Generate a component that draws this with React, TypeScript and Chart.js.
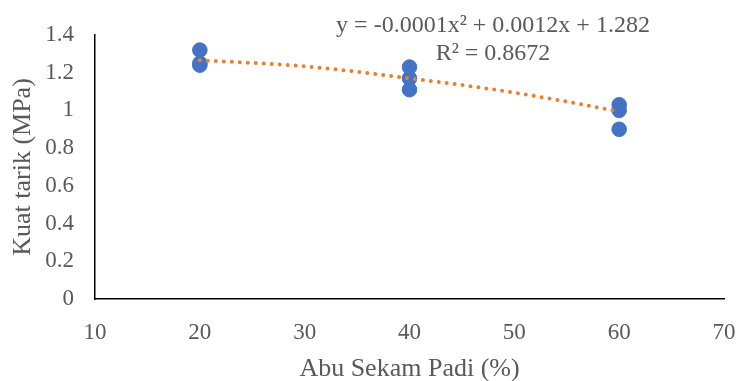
import React, { useEffect, useRef } from "react";
import { Chart, registerables } from "chart.js";

Chart.register(...registerables);

const abuX20: number[] = [20, 20, 20];
const kuat20: number[] = [1.32, 1.25, 1.24];
const abuX40: number[] = [40, 40, 40];
const kuat40: number[] = [1.23, 1.17, 1.11];
const abuX60: number[] = [60, 60, 60];
const kuat60: number[] = [1.03, 1.0, 0.9];

const trendX: number[] = [20, 25, 30, 35, 40, 45, 50, 55, 60];
const trendY: number[] = [1.266, 1.252, 1.234, 1.205, 1.17, 1.135, 1.094, 1.047, 0.994];

const equationLines: string[] = ["y = -0.0001x² + 0.0012x + 1.282", "R² = 0.8672"];

const FONT = "'Liberation Serif', 'Times New Roman', serif";
const GRAY = "#595959";

export default function App() {
  const ref = useRef<HTMLCanvasElement | null>(null);
  useEffect(() => {
    if (!ref.current) return;
    const points = [
      ...abuX20.map((x, i) => ({ x, y: kuat20[i] })),
      ...abuX40.map((x, i) => ({ x, y: kuat40[i] })),
      ...abuX60.map((x, i) => ({ x, y: kuat60[i] })),
    ];
    const trend = trendX.map((x, i) => ({ x, y: trendY[i] }));
    const eqPlugin = {
      id: "eq",
      afterDraw(chart: any) {
        const ctx = chart.ctx;
        ctx.save();
        ctx.fillStyle = GRAY;
        ctx.font = `24px ${FONT}`;
        ctx.textAlign = "center";
        ctx.textBaseline = "alphabetic";
        ctx.fillText(equationLines[0], 493, 32);
        ctx.fillText(equationLines[1], 493, 60);
        ctx.restore();
      },
    };
    const chart = new Chart(ref.current, {
      type: "scatter",
      data: {
        datasets: [
          {
            type: "line",
            data: trend,
            borderColor: "#ED7D31",
            borderWidth: 4,
            borderDash: [0, 8],
            borderCapStyle: "round",
            pointRadius: 0,
            tension: 0.4,
            cubicInterpolationMode: "monotone",
            fill: false,
            order: 0,
          } as any,
          {
            data: points,
            backgroundColor: "#4472C4",
            borderColor: "#4472C4",
            pointRadius: 7.3,
            pointHoverRadius: 7.3,
            order: 1,
          },
        ],
      },
      options: {
        animation: false,
        responsive: false,
        maintainAspectRatio: false,
        layout: { padding: { top: 35, right: 17, left: 0, bottom: 0 } },
        plugins: { legend: { display: false }, tooltip: { enabled: false } },
        scales: {
          x: {
            type: "linear",
            min: 10,
            max: 70,
            ticks: {
              stepSize: 10,
              color: GRAY,
              font: { family: FONT, size: 23 },
              padding: 20,
            },
            grid: { display: false, drawTicks: false },
            border: { display: true, color: "#000000", width: 1.5 },
            title: {
              display: true,
              text: "Abu Sekam Padi (%)",
              color: GRAY,
              font: { family: FONT, size: 26, lineHeight: 0.9 },
              padding: { top: 0, bottom: 0 },
            },
            afterFit(scale: any) {
              scale.height = 82;
              scale.paddingRight = 0;
              scale.paddingLeft = 0;
            },
          },
          y: {
            min: 0,
            max: 1.4,
            ticks: {
              stepSize: 0.2,
              color: GRAY,
              font: { family: FONT, size: 23 },
              padding: 21,
              callback: (v: any) => String(Number(Number(v).toFixed(1))),
            },
            grid: { display: false, drawTicks: false },
            border: { display: true, color: "#000000", width: 1.5 },
            title: {
              display: true,
              text: "Kuat tarik (MPa)",
              color: GRAY,
              font: { family: FONT, size: 26, lineHeight: 1.2 },
              padding: { top: 8, bottom: 0 },
            },
            afterFit(scale: any) {
              scale.width = 95;
              scale.paddingTop = 0;
              scale.paddingBottom = 0;
            },
          },
        },
      },
      plugins: [eqPlugin],
    });
    return () => chart.destroy();
  }, []);
  return (
    <div style={{ position: "fixed", left: 0, top: 0, width: 741, height: 381, background: "#fff" }}>
      <canvas ref={ref} width={741} height={381} style={{ width: 741, height: 381 }} />
    </div>
  );
}
